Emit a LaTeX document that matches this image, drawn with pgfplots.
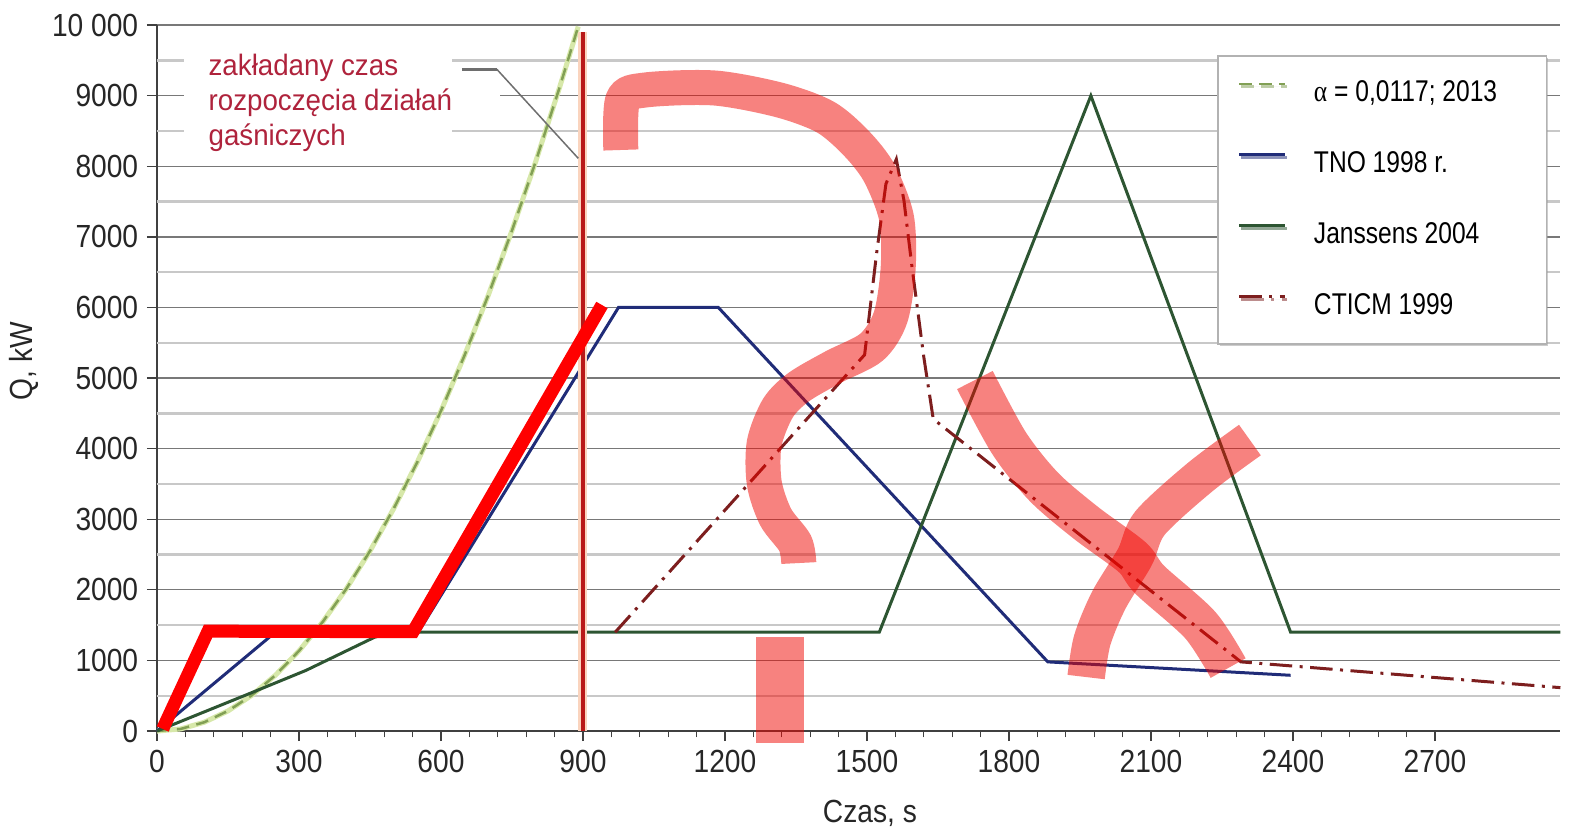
\documentclass[border=0pt]{standalone}
\usepackage{fontspec}
\setmainfont{Liberation Sans}
\newfontfamily\ticksfont[FakeStretch=0.88]{Liberation Sans}
\newfontfamily\legfont[FakeStretch=0.82]{Liberation Sans}
\newfontfamily\notefont[FakeStretch=0.94]{Liberation Sans}
\newfontfamily\greekfont[FakeStretch=0.85]{Liberation Serif}
\usepackage{pgfplots}
\pgfplotsset{compat=1.18}
\usetikzlibrary{shadows}

\definecolor{tnoblue}{RGB}{32,44,120}
\definecolor{jangreen}{RGB}{45,85,50}
\definecolor{cticm}{RGB}{125,30,30}
\definecolor{alphadash}{RGB}{130,160,85}
\definecolor{alphalight}{RGB}{215,232,170}
\definecolor{startred}{RGB}{185,25,25}
\definecolor{halo}{RGB}{250,212,190}
\definecolor{notered}{RGB}{175,35,60}
\definecolor{leader}{RGB}{110,110,110}
\definecolor{gridmajor}{RGB}{120,120,120}
\definecolor{gridminor}{RGB}{200,200,200}
\definecolor{marker}{RGB}{240,5,0}

\begin{document}
\begin{tikzpicture}
\begin{axis}[
  name=ax,
  scale only axis, width=561.4pt, height=282.4pt,
  xmin=0, xmax=2965, ymin=0, ymax=10000,
  clip=false,
  scaled x ticks=false, scaled y ticks=false,
  axis x line=bottom, axis y line=left,
  axis line style={black!75, line width=0.6pt, -},
  tick align=outside,
  major tick length=4pt, minor tick length=2.5pt,
  tick style={black!75, line width=0.5pt},
  xtick={0,300,...,2700},
  xticklabels={0,300,600,900,1200,1500,1800,2100,2400,2700},
  minor x tick num=4,
  ytick={0,1000,...,10000},
  yticklabels={0,1000,2000,3000,4000,5000,6000,7000,8000,9000,10 000},
  ymajorgrids,
  major grid style={gridmajor, line width=0.5pt},
  extra y ticks={500,1500,...,9500},
  extra y tick labels={},
  extra y tick style={major tick length=0pt, grid=major,
    major grid style={gridminor, line width=0.9pt}},
  ticklabel style={font=\ticksfont\fontsize{12.8}{15}\selectfont, text=black!85},
  xlabel={Czas, s}, ylabel={Q, kW},
  label style={font=\ticksfont\fontsize{12.8}{15}\selectfont, text=black!85},
  xlabel style={at={(axis description cs:0.508,-0.1289)}, anchor=base},
  ylabel style={at={(axis description cs:-0.0948,0.524)}, anchor=center},
  legend cell align=left,
  legend style={at={(axis cs:2240,9576)}, anchor=north west,
    draw=black!30, fill=white, line width=0.6pt,
    inner xsep=8pt, inner ysep=9.5pt, row sep=17.4pt, column sep=10.8pt,
    font=\legfont\fontsize{12}{14}\selectfont,
    nodes={inner sep=0pt, text height=8.6pt, text depth=2.4pt},
    drop shadow={shadow xshift=0.8pt, shadow yshift=-1pt, fill=black!40}},
  legend image code/.code={\draw[#1] (0pt,3.8pt) -- (18.4pt,3.8pt);},
]

% white panel behind the annotation text
\fill[white] (axis cs:57,8160) rectangle (axis cs:623,9789);
\fill[white] (axis cs:623,8900) rectangle (axis cs:725,9200);

% alpha t^2 fire
\addplot[alphalight, line width=2pt, forget plot] coordinates {
 (0,0)(50,30)(100,125)(150,285)(200,505)(250,790)(300,1135)(350,1545)
 (400,2015)(450,2550)(500,3150)(550,3810)(600,4535)(650,5325)(700,6175)
 (750,7090)(800,8065)(850,9105)(890,9980)};
\addplot[alphadash, line width=1pt, dash pattern=on 5pt off 3pt] coordinates {
 (0,0)(50,30)(100,125)(150,285)(200,505)(250,790)(300,1135)(350,1545)
 (400,2015)(450,2550)(500,3150)(550,3810)(600,4535)(650,5325)(700,6175)
 (750,7090)(800,8065)(850,9105)(890,9980)};
\addlegendentry{\makebox[85pt][l]{{\greekfont α} = 0,0117; 2013}}

% TNO 1998
\addplot[tnoblue, line width=1.2pt] coordinates {
 (0,0)(250,1400)(552,1400)(975,6000)(1186,6000)(1882,980)(2395,790)};
\addlegendentry{TNO 1998 r.}

% Janssens 2004
\addplot[jangreen, line width=1.2pt] coordinates {
 (0,0)(195,530)(315,860)(460,1330)(500,1400)(1526,1400)(1973,9000)
 (2395,1400)(2965,1400)};
\addlegendentry{Janssens 2004}

% CTICM 1999
\addplot[cticm, line width=1.2pt, dash pattern=on 9pt off 3pt on 1.2pt off 3pt] coordinates {
 (968,1400)(1495,5330)(1520,6750)(1540,7750)(1562,8100)(1578,7520)
 (1595,6580)(1620,5300)(1640,4420)(2290,980)(2965,615)};
\addlegendentry{CTICM 1999}

% start of extinguishing at 900 s
\addplot[halo, line width=3.6pt, forget plot] coordinates {(900,0)(900,9906)};
\addplot[startred, line width=1.6pt, forget plot] coordinates {(900,0)(900,9906)};

% annotation
\node[anchor=base west, text=notered, inner sep=0pt, font=\notefont\fontsize{11.8}{14}\selectfont] at (axis cs:108,9293) {zakładany czas};
\node[anchor=base west, text=notered, inner sep=0pt, font=\notefont\fontsize{11.8}{14}\selectfont] at (axis cs:108,8797) {rozpoczęcia działań};
\node[anchor=base west, text=notered, inner sep=0pt, font=\notefont\fontsize{11.8}{14}\selectfont] at (axis cs:108,8301) {gaśniczych};
\draw[leader, line width=1.2pt] (axis cs:644,9374) -- (axis cs:718,9374);
\draw[leader, line width=0.6pt] (axis cs:718,9374) -- (axis cs:890,8113);

% hand-drawn highlights
\addplot[red, line width=5.2pt, line join=miter, forget plot] coordinates {
 (12,30)(108,1415)(541,1407)(940,6035)};
\addplot[marker, opacity=0.5, line width=14pt, smooth, forget plot] coordinates {
 (980,8231)(984,8939)(1032,9081)(1178,9109)(1315,8939)(1412,8698)(1477,8330)
 (1526,7905)(1562,7281)(1566,6573)(1550,5865)(1510,5440)(1429,5157)(1356,4873)
 (1312,4576)(1283,4080)(1283,3513)(1307,3032)(1348,2663)(1356,2380)};
\addplot[marker, opacity=0.5, line width=19pt, forget plot] coordinates {
 (1316,1330)(1316,-170)};
\addplot[marker, opacity=0.5, line width=16pt, smooth, forget plot] coordinates {
 (1728,4972)(1800,4080)(1874,3457)(1963,2947)(2060,2465)(2098,2139)(2204,1502)(2263,892)};
\addplot[marker, opacity=0.5, line width=15pt, smooth, forget plot] coordinates {
 (2309,4122)(2204,3598)(2098,2947)(2066,2465)(2011,1856)(1976,1289)(1963,765)};
\end{axis}
\pgfresetboundingbox
\path ([xshift=-62.8pt,yshift=-40.4pt]ax.south west) rectangle ([xshift=5.84pt,yshift=10.04pt]ax.north east);
\end{tikzpicture}
\end{document}
